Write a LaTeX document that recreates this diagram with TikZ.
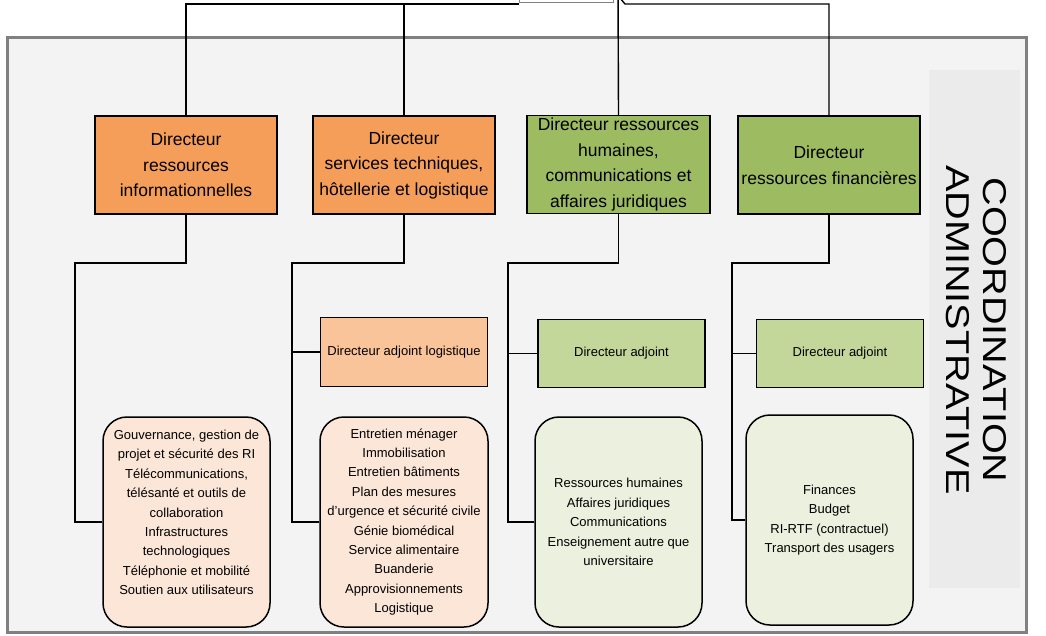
\documentclass[tikz,border=0pt]{standalone}
\usepackage{fontspec}
\setmainfont{Liberation Sans}
\newfontfamily\titlefont[FakeStretch=1.2]{Liberation Sans}
\definecolor{framefill}{HTML}{F3F3F3}
\definecolor{framedraw}{HTML}{808080}
\definecolor{panelfill}{HTML}{EBEBEB}
\definecolor{orangedir}{HTML}{F59E5A}
\definecolor{greendir}{HTML}{9DBB61}
\definecolor{orangeadj}{HTML}{F9C49A}
\definecolor{greenadj}{HTML}{C4D79B}
\definecolor{orangelist}{HTML}{FCE6D8}
\definecolor{greenlist}{HTML}{EBF1DE}
\tikzset{
  dirbox/.style={draw=black, line width=1.5pt, inner sep=0pt, minimum width=182pt,
    minimum height=98pt, align=center, font=\fontsize{17.5}{25.5}\selectfont},
  adjbox/.style={draw=black, line width=1.5pt, inner sep=0pt, minimum width=167pt,
    minimum height=68pt, align=center, font=\fontsize{13}{19.4}\selectfont},
  listbox/.style={draw=black, line width=1.5pt, rounded corners=24pt, inner sep=0pt,
    minimum width=167pt, minimum height=210pt, align=center,
    font=\fontsize{13}{19.4}\selectfont},
  link/.style={draw=black, line width=1.4pt},
}
\begin{document}
\begin{tikzpicture}[x=1pt, y=-1pt]
\useasboundingbox (0,0) rectangle (1046,635);
\clip (0,0) rectangle (1046,635);

% outer frame and side panel
\draw[framedraw, fill=framefill, line width=3pt] (7,37) rectangle (1026,632);
\fill[panelfill] (929,70) rectangle (1020,588);
\node[rotate=-90, align=center, font=\titlefont\fontsize{33}{37}\selectfont] (title) at (976,330)
  {COORDINATION\\ADMINISTRATIVE};

% parent box edge at the top
\draw[gray, line width=0.8pt] (519,-10) -- (519,2) -- (613,2) -- (613,-10);

% directors
\node[dirbox, fill=orangedir] (D1) at (186,165) {Directeur\\ressources\\informationnelles};
\node[dirbox, fill=orangedir] (D2) at (404,165) {Directeur\\services techniques,\\hôtellerie et logistique};
\node[dirbox, fill=greendir, minimum width=183pt] (D3) at (618.5,164.5) {Directeur ressources\\humaines,\\communications et\\affaires juridiques};
\node[dirbox, fill=greendir] (D4) at (829,165) {Directeur\\ressources financières};

% deputies
\node[adjbox, fill=orangeadj, minimum height=69pt] (A2) at (404,352) {Directeur adjoint logistique};
\node[adjbox, fill=greenadj] (A3) at (621.5,353.5) {Directeur adjoint};
\node[adjbox, fill=greenadj] (A4) at (840,353.5) {Directeur adjoint};

% service lists
\node[listbox, fill=orangelist] (B1) at (186.5,522) {Gouvernance, gestion de\\projet et sécurité des RI\\Télécommunications,\\télésanté et outils de\\collaboration\\Infrastructures\\technologiques\\Téléphonie et mobilité\\Soutien aux utilisateurs\\~};
\node[listbox, fill=orangelist, minimum width=168pt] (B2) at (404,522) {Entretien ménager\\Immobilisation\\Entretien bâtiments\\Plan des mesures\\d’urgence et sécurité civile\\Génie biomédical\\Service alimentaire\\Buanderie\\Approvisionnements\\Logistique};
\node[listbox, fill=greenlist] (B3) at (618.5,522) {Ressources humaines\\Affaires juridiques\\Communications\\Enseignement autre que\\universitaire};
\node[listbox, fill=greenlist] (B4) at (829.5,520) {Finances\\Budget\\RI-RTF (contractuel)\\Transport des usagers};

% links from the top
\coordinate (hubL) at (519,4);
\coordinate (hubR) at (625,4);
\coordinate (top3) at (618,-10);
\draw[link] (D1.north) |- (hubL);
\draw[link] (D2.north) |- (hubL);
\draw[link] (D3.north) -- (top3);
\draw[link] (D4.north) |- (hubR) -- (620,-2);

% links below each director
\coordinate (e1) at (75,263);
\coordinate (e2) at (292,263);
\coordinate (e3) at (508,263);
\coordinate (e4) at (732,263);
\draw[link] (D1.south) |- (e1) |- (B1.west);
\draw[link] (D2.south) |- (e2) |- (B2.west);
\draw[link] (D3.south) |- (e3) |- (B3.west);
\draw[link] (D4.south) |- (e4) |- (B4.west);
\draw[link] (e2 |- A2.west) -- (A2.west);
\draw[link] (e3 |- A3.west) -- (A3.west);
\draw[link] (e4 |- A4.west) -- (A4.west);
\end{tikzpicture}
\end{document}
